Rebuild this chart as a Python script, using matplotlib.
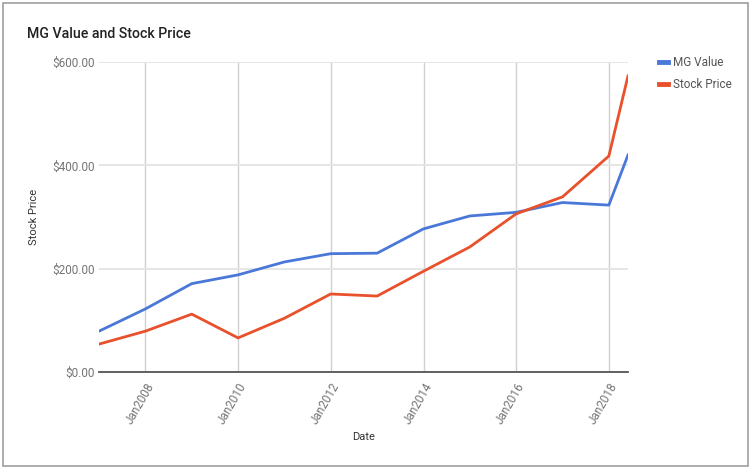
import matplotlib
matplotlib.use("Agg")
import matplotlib.pyplot as plt
import matplotlib.dates as mdates
from datetime import datetime

plt.rcParams['font.family'] = ['Roboto', 'DejaVu Sans']

dates = ["2006-12-31", "2007-12-31", "2008-12-31", "2009-12-31", "2010-12-31",
         "2011-12-31", "2012-12-31", "2013-12-31", "2014-12-31", "2015-12-31",
         "2016-12-31", "2017-12-31", "2018-05-31"]
mg_value = [79, 122, 171, 188, 213, 229, 230, 277, 302, 309, 328, 323, 420]
stock_price = [54, 79, 112, 66, 104, 151, 147, 195, 242, 306, 339, 418, 573]
y_ticks = [0, 200, 400, 600]
x_ticks = ["2008-01-01", "2010-01-01", "2012-01-01", "2014-01-01", "2016-01-01", "2018-01-01"]

x = [datetime.strptime(d, "%Y-%m-%d") for d in dates]
xt = [datetime.strptime(d, "%Y-%m-%d") for d in x_ticks]

W, H = 751, 470
L, R, T, B = 99, 628, 62, 372
fig = plt.figure(figsize=(W/100, H/100), dpi=100)
ax = fig.add_axes([L/W, 1-B/H, (R-L)/W, (B-T)/H])

ax.plot(x, mg_value, color="#4a78d8", lw=2, label="MG Value", zorder=3)
ax.plot(x, stock_price, color="#e8512b", lw=2, label="Stock Price", zorder=3)

ax.set_xlim(x[0], x[-1])
ax.set_ylim(0, 600)
ax.set_yticks(y_ticks)
ax.set_yticklabels(["${:.2f}".format(v) for v in y_ticks])
ax.set_xticks(xt)
ax.xaxis.set_major_formatter(mdates.DateFormatter("Jan%Y"))
ax.tick_params(axis="both", length=0, labelsize=8.5, colors="#757575")
ax.tick_params(axis="y", pad=3)
ax.tick_params(axis="x", pad=6)
for lab in ax.get_xticklabels():
    lab.set_rotation(60)
    lab.set_ha("right")
    lab.set_rotation_mode("anchor")
ax.xaxis.grid(True, color="#d0d0d0", lw=1)
ax.yaxis.grid(True, color="#e4e4e4", lw=1.3)
ax.set_axisbelow(True)
for s in ["top", "right", "left"]:
    ax.spines[s].set_visible(False)
ax.spines["bottom"].set_color("#555555")
ax.spines["bottom"].set_linewidth(1.3)

ax.set_xlabel("Date", fontsize=8, color="#333333")
ax.set_ylabel("Stock Price", fontsize=8, color="#333333")
ax.yaxis.set_label_coords((34 - L)/(R-L), 0.5)
ax.xaxis.set_label_coords(0.5, -(437 - B)/(B-T))
ax.xaxis.label.set_va("center")
ax.yaxis.label.set_va("center")

fig.text(27/W, 1-34/H, "MG Value and Stock Price", fontsize=10.2, fontweight="medium",
         color="#222222", va="center", ha="left")

leg = ax.legend(loc="upper left", bbox_to_anchor=((654 - L)/(R-L), 1.0 + 11/(B-T)), frameon=False,
                fontsize=8.5, handlelength=0.75, handleheight=0.5, labelcolor="#555555",
                borderaxespad=0, handletextpad=0.5, labelspacing=0.75)
for h in leg.get_lines():
    h.set_linewidth(3.5)

fig.patches.append(plt.Rectangle((3/W, 4/H), 745/W, 463/H, transform=fig.transFigure,
                                 fill=False, edgecolor="#9e9e9e", lw=1.2))

fig.savefig("out.png", dpi=100)
